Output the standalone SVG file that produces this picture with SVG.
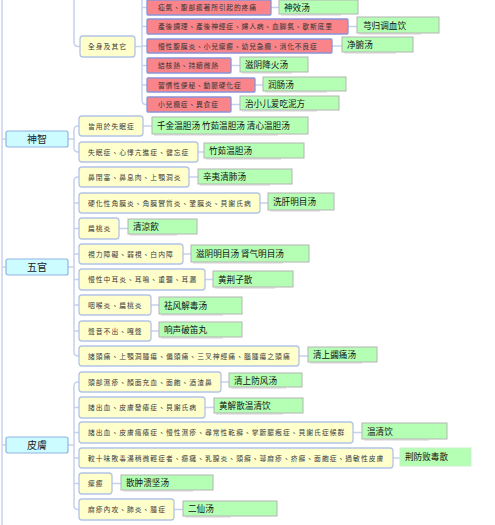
<svg xmlns="http://www.w3.org/2000/svg" width="495" height="525" viewBox="0 0 495 525">
<style>
.bg{fill:#ffffff}
.c{fill:none;stroke:#c6d2ec;stroke-width:1.5}
.l1 rect{fill:#ccfcff;stroke:#8fb2e4;stroke-width:1.2}
.l1 text{font-family:"Noto Sans CJK TC","Noto Sans CJK SC",sans-serif;font-size:10px;fill:#222;text-anchor:middle}
.y rect{fill:#ffffcc;stroke:#b3c3e6;stroke-width:1.3}
.y text{font-family:"Noto Sans CJK TC","Noto Sans CJK SC",sans-serif;font-size:6.8px;letter-spacing:1px;fill:#3a3a3a}
.r rect{fill:#f98489;stroke:#8a93d6;stroke-width:1.3}
.r text{font-family:"Noto Sans CJK TC","Noto Sans CJK SC",sans-serif;font-size:6.8px;letter-spacing:0.8px;fill:#333}
.g rect.s{fill:#e8e8e8;stroke:none}
.g rect.b{fill:#b4ffb4;stroke:#b4b4b4;stroke-width:1}
.g text{font-family:"Noto Sans CJK SC","Noto Sans CJK TC",sans-serif;font-size:8.6px;fill:#111}
</style>
<rect class="bg" x="0" y="0" width="495" height="525"/>
<g id="connectors">
<path class="c" d="M2,-5 V525"/>
<path class="c" d="M2,139 H6 M2,267 H6 M2,445 H6"/>
<path class="c" d="M74,-5 V42 Q74,46.5 78,46.5 H80"/>
<path class="c" d="M135,46.5 H142 M142,-5 V100 Q142,104.5 146,104.5 H147 M142,7.5 H147 M142,26.5 H147 M142,46 H147 M142,65.5 H147 M142,85 H147"/>
<path class="c" d="M271,7.5 H279 M348,26.5 H357 M332,46 H342 M231,65.5 H240 M255,85 H263 M231,104.5 H240"/>
<path class="c" d="M68,139 H74 M74,139 V130 Q74,126 78,126 H79 M74,139 V148 Q74,152 78,152 H79"/>
<path class="c" d="M68,267 H74 M74,267 V181 Q74,177 78,177 H79 M74,267 V352 Q74,356 78,356 H79 M74,203 H79 M74,228.5 H79 M74,254 H79 M74,279.5 H79 M74,305 H79 M74,331 H79"/>
<path class="c" d="M68,445 H74 M74,445 V386 Q74,382 78,382 H79 M74,445 V505.5 Q74,509.5 78,509.5 H79 M74,407.5 H79 M74,432.5 H79 M74,458 H79 M74,483.5 H79"/>
<path class="c" d="M143,126 H152 M198,152 H204 M189,177 H198 M260,203 H268 M119,228.5 H128 M183,254 H191 M205,279.5 H213 M151,305 H159 M151,331 H159 M299,356 H308 M221,382 H229 M205,407.5 H214 M353,432.5 H362 M393,458 H400 M112,483.5 H121 M174,509.5 H183"/>
</g>

<g id="n-shenzhi" class="l1"><rect x="6" y="131" width="62" height="16" rx="2"/><text x="37" y="142.5">神智</text></g>
<g id="n-wuguan" class="l1"><rect x="6" y="259" width="62" height="16" rx="2"/><text x="37" y="270.5">五官</text></g>
<g id="n-pifu" class="l1"><rect x="6" y="437" width="62" height="16" rx="2"/><text x="37" y="448.5">皮膚</text></g>

<g id="n-quanshen" class="y"><rect x="80" y="36" width="55" height="21" rx="3"/><text x="88" y="49">全身及其它</text></g>

<g id="n-r1" class="r"><rect x="147" y="0" width="124" height="15" rx="1"/><text x="158" y="10">疝氣、腹部癒著所引起的疼痛</text></g>
<g id="n-r2" class="r"><rect x="147" y="19" width="201" height="15" rx="1"/><text x="158" y="29">產後調理、產後神經症、婦人病、血脚氣、歇斯底里</text></g>
<g id="n-r3" class="r"><rect x="147" y="39" width="185" height="14" rx="1"/><text x="158" y="48.5">慢性腹膜炎、小兒瘰癧、幼兒急癇、消化不良症</text></g>
<g id="n-r4" class="r"><rect x="147" y="58" width="84" height="15" rx="1"/><text x="158" y="68">結核熱、持續微熱</text></g>
<g id="n-r5" class="r"><rect x="147" y="78" width="108" height="14" rx="1"/><text x="158" y="87.5">習慣性便秘、動脈硬化症</text></g>
<g id="n-r6" class="r"><rect x="147" y="97" width="84" height="15" rx="1"/><text x="158" y="107">小兒癇症、異食症</text></g>

<g id="n-g1" class="g"><rect class="s" x="281" y="2" width="60" height="14"/><rect class="b" x="279" y="0" width="79" height="14"/><text x="284" y="10.5">神效汤</text></g>
<g id="n-g2" class="g"><rect class="s" x="359" y="19" width="62" height="16"/><rect class="b" x="357" y="17" width="82" height="16"/><text x="363" y="28.5">芎归调血饮</text></g>
<g id="n-g3" class="g"><rect class="s" x="344" y="39" width="52" height="15"/><rect class="b" x="342" y="37" width="71" height="15"/><text x="347" y="48">净腑汤</text></g>
<g id="n-g4" class="g"><rect class="s" x="242" y="59" width="50" height="15"/><rect class="b" x="240" y="57" width="68" height="15"/><text x="245" y="68">滋阴降火汤</text></g>
<g id="n-g5" class="g"><rect class="s" x="265" y="79" width="62" height="14"/><rect class="b" x="263" y="77" width="83" height="14"/><text x="268" y="87.5">润肠汤</text></g>
<g id="n-g6" class="g"><rect class="s" x="242" y="98" width="75" height="14"/><rect class="b" x="240" y="96" width="99" height="14"/><text x="245" y="106.5">治小儿爱吃泥方</text></g>

<g id="n-y1" class="y"><rect x="79" y="116" width="64" height="20" rx="3"/><text x="88" y="128.5">皆用於失眠症</text></g>
<g id="n-gy1" class="g"><rect class="s" x="154" y="119" width="124" height="17"/><rect class="b" x="152" y="117" width="156" height="17"/><text x="157" y="128.5">千金温胆汤 竹茹温胆汤 清心温胆汤</text></g>
<g id="n-y2" class="y"><rect x="79" y="142" width="119" height="20" rx="3"/><text x="88" y="154.5">失眠症、心悸亢進症、健忘症</text></g>
<g id="n-gy2" class="g"><rect class="s" x="206" y="145" width="75" height="15"/><rect class="b" x="204" y="143" width="100" height="15"/><text x="209" y="154">竹茹温胆汤</text></g>

<g id="n-y3" class="y"><rect x="79" y="167" width="110" height="20" rx="3"/><text x="88" y="179.5">鼻閉塞、鼻息肉、上顎洞炎</text></g>
<g id="n-gy3" class="g"><rect class="s" x="200" y="171" width="70" height="15"/><rect class="b" x="198" y="169" width="94" height="15"/><text x="203" y="180">辛夷清肺汤</text></g>
<g id="n-y4" class="y"><rect x="79" y="193" width="181" height="20" rx="3"/><text x="88" y="205.5">硬化性角膜炎、角膜實質炎、鞏膜炎、貝謝氏病</text></g>
<g id="n-gy4" class="g"><rect class="s" x="270" y="195" width="50" height="17"/><rect class="b" x="268" y="193" width="66" height="17"/><text x="273" y="204.5">洗肝明目汤</text></g>
<g id="n-y5" class="y"><rect x="79" y="218" width="40" height="21" rx="3"/><text x="88" y="231">扁桃炎</text></g>
<g id="n-gy5" class="g"><rect class="s" x="130" y="221" width="47" height="15"/><rect class="b" x="128" y="219" width="69" height="15"/><text x="133" y="230">清涼飲</text></g>
<g id="n-y6" class="y"><rect x="79" y="244" width="104" height="20" rx="3"/><text x="88" y="256.5">視力障礙、弱視、白内障</text></g>
<g id="n-gy6" class="g"><rect class="s" x="193" y="247" width="90" height="17"/><rect class="b" x="191" y="245" width="118" height="17"/><text x="196" y="256.5">滋阴明目汤 肾气明目汤</text></g>
<g id="n-y7" class="y"><rect x="79" y="269" width="126" height="21" rx="3"/><text x="88" y="282">慢性中耳炎、耳鳴、重聽、耳漏</text></g>
<g id="n-gy7" class="g"><rect class="s" x="215" y="273" width="60" height="16"/><rect class="b" x="213" y="271" width="80" height="16"/><text x="218" y="282.5">黄荆子散</text></g>
<g id="n-y8" class="y"><rect x="79" y="295" width="72" height="20" rx="3"/><text x="88" y="307.5">咽喉炎、扁桃炎</text></g>
<g id="n-gy8" class="g"><rect class="s" x="161" y="299" width="62" height="17"/><rect class="b" x="159" y="297" width="83" height="17"/><text x="164" y="308.5">祛风解毒汤</text></g>
<g id="n-y9" class="y"><rect x="79" y="321" width="72" height="20" rx="3"/><text x="88" y="333.5">聲音不出、嘎聲</text></g>
<g id="n-gy9" class="g"><rect class="s" x="161" y="324" width="62" height="15"/><rect class="b" x="159" y="322" width="83" height="15"/><text x="164" y="333">响声破笛丸</text></g>
<g id="n-y10" class="y"><rect x="79" y="346" width="220" height="20" rx="3"/><text x="88" y="358.5">諸頭痛、上顎洞腫瘍、偏頭痛、三叉神經痛、腦腫瘍之頭痛</text></g>
<g id="n-gy10" class="g"><rect class="s" x="310" y="349" width="52" height="15"/><rect class="b" x="308" y="347" width="69" height="15"/><text x="313" y="358">清上蠲痛汤</text></g>

<g id="n-y11" class="y"><rect x="79" y="372" width="142" height="20" rx="3"/><text x="88" y="384.5">頭部濕疹、顏面充血、面皰、酒渣鼻</text></g>
<g id="n-gy11" class="g"><rect class="s" x="231" y="375" width="55" height="14"/><rect class="b" x="229" y="373" width="73" height="14"/><text x="234" y="383.5">清上防风汤</text></g>
<g id="n-y12" class="y"><rect x="79" y="397" width="126" height="21" rx="3"/><text x="88" y="410">諸出血、皮膚發癢症、貝謝氏病</text></g>
<g id="n-gy12" class="g"><rect class="s" x="216" y="400" width="67" height="15"/><rect class="b" x="214" y="398" width="89" height="15"/><text x="219" y="409">黄解散温清饮</text></g>
<g id="n-y13" class="y"><rect x="79" y="422" width="274" height="21" rx="3"/><text x="88" y="435">諸出血、皮膚瘙癢症、慢性濕疹、尋常性乾癬、掌蹠膿疱症、貝謝氏症候群</text></g>
<g id="n-gy13" class="g"><rect class="s" x="364" y="425" width="65" height="16"/><rect class="b" x="362" y="423" width="85" height="16"/><text x="367" y="434.5">温清饮</text></g>
<g id="n-y14" class="y"><rect x="79" y="448" width="314" height="20" rx="3"/><text x="88" y="460.5">較十味敗毒湯稍微輕症者、癤癰、乳腺炎、頭癬、蕁麻疹、疥癬、面皰症、過敏性皮膚</text></g>
<g id="n-gy14" class="g"><rect class="b" x="400" y="448" width="71" height="18" style="stroke:#c8f0c8"/><text x="405" y="460">荆防败毒散</text></g>
<g id="n-y15" class="y"><rect x="79" y="473" width="33" height="21" rx="3"/><text x="88" y="486">瘰癧</text></g>
<g id="n-gy15" class="g"><rect class="s" x="123" y="477" width="70" height="15"/><rect class="b" x="121" y="475" width="92" height="15"/><text x="126" y="486">散肿溃坚汤</text></g>
<g id="n-y16" class="y"><rect x="79" y="499" width="95" height="21" rx="3"/><text x="88" y="512">麻疹內攻、肺炎、腫症</text></g>
<g id="n-gy16" class="g"><rect class="s" x="185" y="503" width="46" height="15"/><rect class="b" x="183" y="501" width="94" height="15"/><text x="188" y="512">二仙汤</text></g>
</svg>
